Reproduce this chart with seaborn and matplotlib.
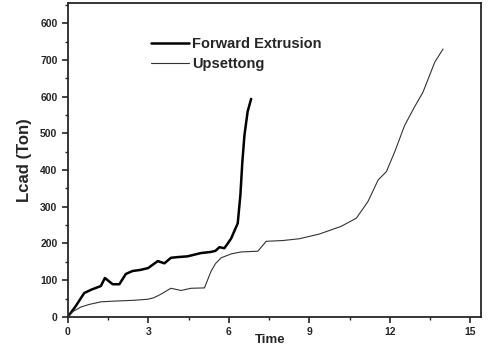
import pandas as pd
import matplotlib
matplotlib.use("Agg")
import matplotlib.pyplot as plt
import seaborn as sns
from matplotlib.ticker import MultipleLocator

# values
fwd_time = [0, 0.3, 0.61, 0.9, 1.23, 1.38, 1.67, 1.92, 2.16, 2.41, 2.7, 2.99, 3.35,
            3.6, 3.84, 4.1, 4.46, 4.96, 5.33, 5.5, 5.65, 5.83, 6.08, 6.33, 6.43,
            6.5, 6.58, 6.7, 6.83]
fwd_load = [0, 30, 65, 75, 84, 106, 89, 89, 117, 125, 128, 133, 152,
            146, 161, 163, 165, 174, 177, 180, 190, 187, 213, 255, 333,
            420, 495, 560, 594]

ups_time = [0, 0.2, 0.49, 0.8, 1.23, 1.73, 2.4, 2.97, 3.2, 3.47, 3.84, 4.22, 4.59,
            5.09, 5.34, 5.5, 5.71, 6.1, 6.46, 7.08, 7.39, 8.0, 8.63, 9.38, 10.19,
            10.75, 11.18, 11.56, 11.87, 12.18, 12.55, 12.9, 13.23, 13.67, 13.98]
ups_load = [0, 15, 27, 34, 41, 43, 45, 48, 52, 62, 78, 72, 78,
            79, 125, 145, 161, 172, 177, 179, 206, 208, 213, 226, 247,
            269, 314, 373, 396, 450, 522, 570, 612, 694, 730]

y_ticks = [0, 100, 200, 300, 400, 500, 600, 700, 800]
y_tick_labels = ["0", "100", "200", "300", "400", "500", "600", "700", "600"]
x_ticks = [0, 3, 6, 9, 12, 15]

fwd = pd.DataFrame({"Time": fwd_time, "Load": fwd_load})
ups = pd.DataFrame({"Time": ups_time, "Load": ups_load})

sns.set_style("ticks")
plt.rcParams["font.family"] = ["Liberation Sans", "DejaVu Sans"]
plt.rcParams["font.weight"] = "bold"

fig = plt.figure(figsize=(4.88, 3.49), dpi=100)
ax = fig.add_axes([0.139, 0.092, 0.847, 0.899])

sns.lineplot(data=fwd, x="Time", y="Load", ax=ax, color="black", linewidth=1.8,
             label="Forward Extrusion")
sns.lineplot(data=ups, x="Time", y="Load", ax=ax, color="#333333", linewidth=0.8,
             label="Upsettong")

ax.set_xlim(0, 15.4)
ax.set_ylim(0, 855)
ax.set_xticks(x_ticks)
ax.set_yticks(y_ticks)
ax.set_yticklabels(y_tick_labels)
ax.xaxis.set_minor_locator(MultipleLocator(1.5))
ax.yaxis.set_minor_locator(MultipleLocator(50))
ax.tick_params(which="major", direction="out", length=4, width=1.2, labelsize=7.5)
ax.tick_params(which="minor", direction="out", length=2, width=1)
for lbl in ax.get_xticklabels() + ax.get_yticklabels():
    lbl.set_fontweight("bold")
for s in ax.spines.values():
    s.set_linewidth(1.3)
    s.set_visible(True)

ax.set_xlabel("Time", fontsize=9.5, fontweight="bold", va="center")
ax.xaxis.set_label_coords(0.49, -0.075)
ax.set_ylabel("Lcad (Ton)", fontsize=12, fontweight="bold", labelpad=6)

ax.legend(loc="upper left", bbox_to_anchor=(0.17, 0.935), frameon=False,
          prop={"weight": "bold", "size": 10.5}, handlelength=2.6, handletextpad=0.2,
          labelspacing=0.45)

fig.savefig("out.png", dpi=100)
